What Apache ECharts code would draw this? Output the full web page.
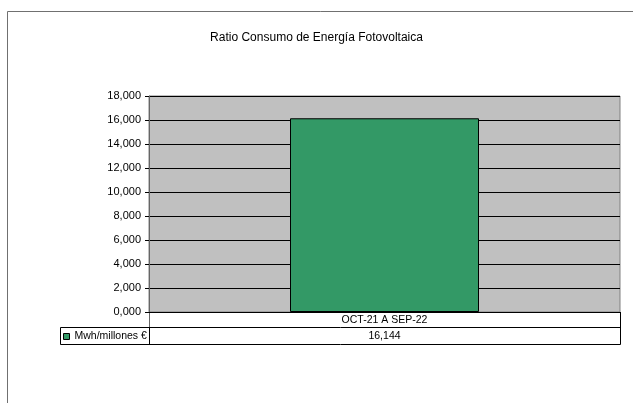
<!DOCTYPE html>
<html>
<head>
<meta charset="utf-8">
<script src="https://cdn.jsdelivr.net/npm/echarts@6/dist/echarts.min.js"></script>
<style>
html,body{margin:0;padding:0;background:#fff;}
#chart{width:633px;height:403px;}
</style>
</head>
<body>
<div id="chart"></div>
<script>
var titleText = 'Ratio Consumo de Energía Fotovoltaica';
var categories = ['OCT-21 A SEP-22'];
var seriesName = 'Mwh/millones €';
var values = [16.144];
var yMin = 0, yMax = 18, yInterval = 2;

function fmt(v){ return v.toFixed(3).replace('.', ','); }

var FONT = 'Liberation Sans, Arial, sans-serif';
var chart = echarts.init(document.getElementById('chart'), null, {renderer:'canvas'});

var gl = 149, gt = 96, gr = 620, gb = 312;

chart.setOption({
  animation: false,
  backgroundColor: '#ffffff',
  title: {
    text: titleText, left: 'center', top: 32, padding: 0,
    textStyle: {fontFamily: FONT, fontSize: 12, fontWeight: 'normal', color: '#000'}
  },
  legend: {
    show: true, left: 63, top: 331, padding: 0, itemWidth: 6, itemHeight: 6, itemGap: 0,
    icon: 'rect',
    itemStyle: {borderColor: '#000', borderWidth: 1},
    textStyle: {fontFamily: FONT, fontSize: 10.5, color: '#000'},
    data: [seriesName]
  },
  grid: {
    left: gl, top: gt, width: gr - gl, height: gb - gt,
    show: true, backgroundColor: '#C0C0C0', borderColor: '#808080', borderWidth: 1
  },
  xAxis: [{
    type: 'category', data: categories, position: 'bottom',
    axisLine: {show: true, lineStyle: {color: '#000', width: 1}},
    axisTick: {show: false},
    axisLabel: {margin: 3, fontFamily: FONT, fontSize: 10.5, color: '#000'}
  }, {
    type: 'category', data: values.map(fmt), position: 'bottom', offset: 16,
    axisLine: {show: false}, axisTick: {show: false},
    axisLabel: {margin: 3, fontFamily: FONT, fontSize: 10.5, color: '#000'}
  }],
  yAxis: {
    type: 'value', min: yMin, max: yMax, interval: yInterval,
    axisLine: {show: true, lineStyle: {color: '#666', width: 1}},
    axisTick: {show: true, length: 4, lineStyle: {color: '#000'}},
    axisLabel: {margin: 8, fontFamily: FONT, fontSize: 11, color: '#000', formatter: fmt},
    splitLine: {show: true, lineStyle: {color: '#000', width: 1}}
  },
  series: [{
    name: seriesName, type: 'bar', data: values, barWidth: 189,
    itemStyle: {color: '#339966', borderColor: '#000', borderWidth: 1}
  }],
  graphic: [
    {type: 'polyline', shape: {points: [[7.5,403],[7.5,11.5],[633,11.5]]}, style: {stroke: '#707070', lineWidth: 1, fill: null}, silent: true},
    {type: 'line', shape: {x1: gl+0.5, y1: gb, x2: gl+0.5, y2: 327}, style: {stroke: '#666', lineWidth: 1}, silent: true},
    {type: 'line', shape: {x1: gr+0.5, y1: gb, x2: gr+0.5, y2: 344}, style: {stroke: '#000', lineWidth: 1}, silent: true},
    {type: 'rect', shape: {x: 60.5, y: 327.5, width: gr - 60, height: 17}, style: {stroke: '#000', lineWidth: 1, fill: null}, silent: true},
    {type: 'line', shape: {x1: gl+0.5, y1: 327, x2: gl+0.5, y2: 344}, style: {stroke: '#000', lineWidth: 1}, silent: true}
  ]
});
</script>
</body>
</html>
